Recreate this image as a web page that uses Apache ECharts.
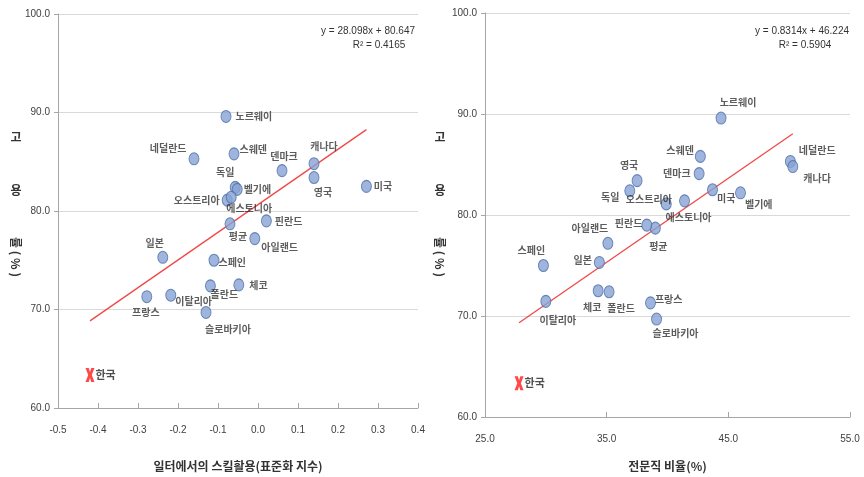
<!DOCTYPE html>
<html><head><meta charset="utf-8">
<script src="https://cdn.jsdelivr.net/npm/echarts/dist/echarts.min.js"></script>
<style>html,body{margin:0;padding:0;background:#fff}#c{width:864px;height:477px}</style>
</head><body><div id="c"></div>
<script>
// ---- data ----
const countries = ['노르웨이','네덜란드','스웨덴','덴마크','캐나다','영국','미국','독일','벨기에','오스트리아','에스토니아','평균','핀란드','아일랜드','일본','스페인','체코','폴란드','프랑스','이탈리아','슬로바키아'];
const employmentRate = [89.6,85.3,85.8,84.1,84.8,83.4,82.5,82.4,82.2,81.1,81.4,78.7,79.0,77.2,75.3,75.0,72.5,72.4,71.3,71.45,69.7];
const skillIndex = [-0.080,-0.160,-0.060,0.060,0.140,0.140,0.271,-0.057,-0.052,-0.077,-0.067,-0.070,0.021,-0.008,-0.238,-0.110,-0.048,-0.119,-0.278,-0.218,-0.130];
const professionalShare = [44.4,50.1,42.7,42.6,50.3,37.5,43.7,36.9,46.0,39.9,41.4,39.0,38.3,35.1,34.4,29.8,34.3,35.2,38.6,30.0,39.1];
const koreaName = '한국';
const koreaEmployment = [63.35];
const koreaSkill = [-0.42];
const koreaProfessional = [27.8];
const leftXTicks = [-0.5,-0.4,-0.3,-0.2,-0.1,0.0,0.1,0.2,0.3,0.4];
const rightXTicks = [25,35,45,55];
const yTicks = [60,70,80,90,100];
const leftFit = [28.098, 80.647, 0.4165];   // slope, intercept, R2
const rightFit = [0.8314, 46.224, 0.5904];
const leftXName = '일터에서의 스킬활용(표준화 지수)';
const rightXName = '전문직 비율(%)';

// ---- label placement (style only) ----
const leftLabelPos = {
 '노르웨이':['right',[-1,0]], '네덜란드':['left',[3,-11]], '스웨덴':['right',[-5,-5]], '덴마크':['top',[2,2]],
 '캐나다':['top',[10,-1]], '영국':['bottom',[9,-2]], '미국':['right',[-3,0]], '독일':['top',[-10,1]],
 '벨기에':['right',[-4,0]], '오스트리아':['left',[3,0]], '에스토니아':['bottom',[18,-6]], '평균':['bottom',[8,-4]],
 '핀란드':['right',[-2,0]], '아일랜드':['right',[-4,9]], '일본':['top',[-8,2]], '스페인':['right',[-6,2]],
 '체코':['right',[0,0]], '폴란드':['bottom',[14,-8]], '프랑스':['bottom',[-1,-1]], '이탈리아':['right',[-6,6]],
 '슬로바키아':['bottom',[22,0]]
};
const rightLabelPos = {
 '노르웨이':['top',[17,1]], '네덜란드':['right',[-2,-11]], '스웨덴':['left',[4,-6]], '덴마크':['left',[2,0]],
 '캐나다':['right',[0,12]], '영국':['top',[-8,1]], '미국':['right',[-6,8]], '독일':['left',[0,6]],
 '벨기에':['right',[-6,11]], '오스트리아':['left',[16,-5]], '에스토니아':['bottom',[4,0]], '평균':['bottom',[3,2]],
 '핀란드':['left',[6,-2]], '아일랜드':['top',[-18,1]], '일본':['left',[3,-2]], '스페인':['top',[-12,1]],
 '체코':['bottom',[-6,0]], '폴란드':['bottom',[12,0]], '프랑스':['right',[-6,-4]], '이탈리아':['bottom',[12,2]],
 '슬로바키아':['bottom',[19,-2]]
};

const NUMFONT = "'Liberation Sans Narrow','Liberation Sans',sans-serif";
const KFONT = "'Noto Sans CJK KR','Noto Sans',sans-serif";
const AXIS_COLOR = '#a6a6a6';

function pts(xs, posMap){
  return countries.map((n,i)=>({
    name:n, value:[xs[i], employmentRate[i]],
    label:{position:posMap[n][0], offset:posMap[n][1]}
  }));
}
function fitLine(xs, kx, fit){
  const all = xs.concat(kx);
  const lo = Math.min(...all), hi = Math.max(...all);
  return [[lo, fit[0]*lo+fit[1]],[hi, fit[0]*hi+fit[1]]];
}
const xSym = 'path://M0,0 L3.6,0 L5,4 L6.4,0 L10,0 L7,7 L10,14 L6.4,14 L5,10 L3.6,14 L0,14 L3,7 Z';

function xAxisCfg(gi, min, max, ticks, name, gap){
  return {
    type:'value', gridIndex:gi, min:min, max:max,
    name:name, nameLocation:'middle', nameGap:gap,
    nameTextStyle:{fontFamily:KFONT, fontSize:12, fontWeight:'bold', color:'#333'},
    axisLine:{onZero:false, lineStyle:{color:AXIS_COLOR}},
    axisTick:{inside:true, length:5, customValues:ticks, lineStyle:{color:AXIS_COLOR}},
    axisLabel:{customValues:ticks, formatter:v=>Number(v).toFixed(1), margin:17, fontSize:10, color:'#404040', fontFamily:NUMFONT},
    splitLine:{show:false}
  };
}
function yAxisCfg(gi){
  return {
    type:'value', gridIndex:gi, min:yTicks[0], max:yTicks[yTicks.length-1], interval:yTicks[1]-yTicks[0],
    axisLine:{show:true, onZero:false, lineStyle:{color:AXIS_COLOR}},
    axisTick:{show:true, length:4, lineStyle:{color:AXIS_COLOR}},
    axisLabel:{formatter:v=>Number(v).toFixed(1), margin:8, fontSize:10, color:'#404040', fontFamily:NUMFONT},
    splitLine:{show:true, lineStyle:{color:'#d9d9d9'}}
  };
}
const labelStyle = {show:true, formatter:'{b}', fontFamily:KFONT, fontSize:10, fontWeight:'bold', color:'#333'};
const pointStyle = {color:'#87a3d5', borderColor:'#4c6fa8', borderWidth:1};

function yNameGraphics(x){
  const s = {fontFamily:KFONT, fontSize:12, fontWeight:'bold', fill:'#333', align:'center', verticalAlign:'middle'};
  return [
    {type:'text', x:x, y:137, style:Object.assign({text:'고'}, s)},
    {type:'text', x:x, y:190, style:Object.assign({text:'용'}, s)},
    {type:'text', x:x, y:257, rotation:-Math.PI/2, style:Object.assign({text:'률 ( % )'}, s)}
  ];
}
function eqGraphics(fit, rx, cx){
  const s = {fontFamily:NUMFONT, fontSize:10, fill:'#333', verticalAlign:'middle'};
  return [
    {type:'text', x:rx, y:31, style:Object.assign({text:`y = ${fit[0]}x + ${fit[1]}`, align:'right'}, s)},
    {type:'text', x:cx, y:45, style:Object.assign({text:`R² = ${fit[2]}`, align:'center'}, s)}
  ];
}

const chart = echarts.init(document.getElementById('c'));
chart.setOption({
  animation:false,
  backgroundColor:'#fff',
  grid:[
    {left:58, top:14, width:360, height:396},
    {left:485, top:13, width:365, height:408}
  ],
  xAxis:[
    xAxisCfg(0, leftXTicks[0], leftXTicks[leftXTicks.length-1], leftXTicks, leftXName, 52),
    xAxisCfg(1, rightXTicks[0], rightXTicks[rightXTicks.length-1], rightXTicks, rightXName, 43)
  ],
  yAxis:[yAxisCfg(0), yAxisCfg(1)],
  graphic: yNameGraphics(16).concat(yNameGraphics(440), eqGraphics(leftFit, 415, 379), eqGraphics(rightFit, 849, 805)),
  series:[
    {type:'line', xAxisIndex:0, yAxisIndex:0, data:fitLine(skillIndex, koreaSkill, leftFit), symbol:'none',
     lineStyle:{color:'#f04848', width:1.3}, z:1},
    {type:'scatter', xAxisIndex:0, yAxisIndex:0, data:pts(skillIndex, leftLabelPos), symbol:'circle', symbolSize:[10,12],
     itemStyle:pointStyle, label:labelStyle, z:3},
    {type:'scatter', xAxisIndex:0, yAxisIndex:0, data:[{name:koreaName, value:[koreaSkill[0], koreaEmployment[0]]}],
     symbol:xSym, symbolSize:[9,14], itemStyle:{color:'#ff1a1a'},
     label:{show:true, formatter:'{b}', position:'right', distance:1, fontFamily:KFONT, fontSize:11, fontWeight:'bold', color:'#222'}, z:3},
    {type:'line', xAxisIndex:1, yAxisIndex:1, data:fitLine(professionalShare, koreaProfessional, rightFit), symbol:'none',
     lineStyle:{color:'#f04848', width:1.3}, z:1},
    {type:'scatter', xAxisIndex:1, yAxisIndex:1, data:pts(professionalShare, rightLabelPos), symbol:'circle', symbolSize:[10,12],
     itemStyle:pointStyle, label:labelStyle, z:3},
    {type:'scatter', xAxisIndex:1, yAxisIndex:1, data:[{name:koreaName, value:[koreaProfessional[0], koreaEmployment[0]]}],
     symbol:xSym, symbolSize:[9,14], itemStyle:{color:'#ff1a1a'},
     label:{show:true, formatter:'{b}', position:'right', distance:1, fontFamily:KFONT, fontSize:11, fontWeight:'bold', color:'#222'}, z:3}
  ]
});
</script>
</body></html>
